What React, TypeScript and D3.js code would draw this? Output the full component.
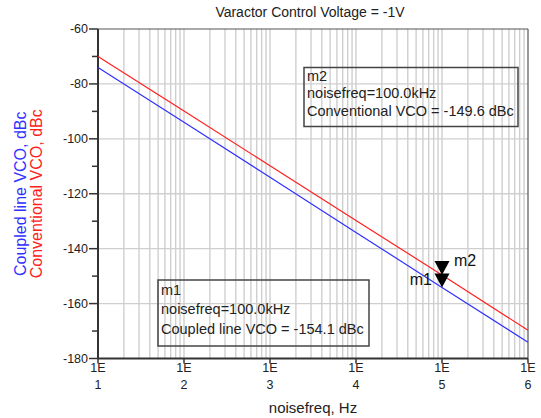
import React from "react";
import * as d3 from "d3";

const title = "Varactor Control Voltage = -1V";
const xTitle = "noisefreq, Hz";
const yTitleBlue = "Coupled line VCO, dBc";
const yTitleRed = "Conventional VCO, dBc";

const noiseFreq = [1e1, 1e2, 1e3, 1e4, 1e5, 1e6];
const conventionalVCO = [-70.0, -89.9, -109.8, -129.7, -149.6, -169.7];
const coupledLineVCO = [-74.0, -94.0, -114.0, -134.1, -154.1, -174.1];

const xExponents = [1, 2, 3, 4, 5, 6];
const yMajorTicks = [-60, -80, -100, -120, -140, -160, -180];
const yMinorTicks = [-70, -90, -110, -130, -150, -170];

const markerFreq = 1e5;
const m1Value = -154.1;
const m2Value = -149.6;
const m1Lines = ["m1", "noisefreq=100.0kHz", "Coupled line VCO = -154.1 dBc"];
const m2Lines = ["m2", "noisefreq=100.0kHz", "Conventional VCO = -149.6 dBc"];

const W = 541;
const H = 418;
const L = 98;
const R = 528;
const T = 29;
const B = 358.5;

const RED = "#ff2020";
const BLUE = "#3030ff";
const FONT = "'Liberation Sans', Arial, sans-serif";

export default function App() {
  const x = d3.scaleLog().domain([1e1, 1e6]).range([L, R]);
  const y = d3.scaleLinear().domain([-180, -60]).range([B, T]);

  const gridX: number[] = [];
  for (let e = 1; e < 6; e++) {
    for (let k = 2; k <= 9; k++) gridX.push(k * Math.pow(10, e));
  }
  const decadeGrid = noiseFreq.slice(1, -1);

  const line = d3
    .line<number>()
    .x((_, i) => x(noiseFreq[i]))
    .y((d) => y(d));

  const tri = (cx: number, tipY: number) => {
    const w = 7.5;
    const h = 14;
    return `M${cx - w},${tipY - h}L${cx + w},${tipY - h}L${cx},${tipY}Z`;
  };

  const mx = x(markerFreq);

  return (
    <svg
      width={W}
      height={H}
      style={{ position: "absolute", left: 0, top: 0, background: "#fff" }}
      fontFamily={FONT}
    >
      <rect x={0} y={0} width={W} height={H} fill="#fff" />
      {/* vertical grid */}
      {gridX.map((f, i) => (
        <line key={"gx" + i} x1={x(f)} x2={x(f)} y1={T} y2={B} stroke="#cfcfcf" strokeWidth={1.4} />
      ))}
      {decadeGrid.map((f, i) => (
        <line key={"gd" + i} x1={x(f)} x2={x(f)} y1={T} y2={B} stroke="#cfcfcf" strokeWidth={1.4} />
      ))}
      {/* horizontal grid */}
      {yMajorTicks.slice(1, -1).map((v) => (
        <line key={"gy" + v} x1={L} x2={R} y1={y(v)} y2={y(v)} stroke="#cfcfcf" strokeWidth={1.4} />
      ))}

      {/* frame */}
      <line x1={L} x2={R} y1={T} y2={T} stroke="#555" strokeWidth={1.2} />
      <line x1={R} x2={R} y1={T} y2={B} stroke="#555" strokeWidth={1.2} />
      <line x1={L} x2={L} y1={T} y2={B} stroke="#333" strokeWidth={2} />
      <line x1={L} x2={R} y1={B} y2={B} stroke="#333" strokeWidth={2} />

      {/* y ticks */}
      {yMajorTicks.map((v) => (
        <g key={"yt" + v}>
          <line x1={L - 9} x2={L} y1={y(v)} y2={y(v)} stroke="#333" strokeWidth={1.5} />
          <text x={L - 10} y={y(v) + 4} fontSize={12.5} textAnchor="end" fill="#222">
            {v}
          </text>
        </g>
      ))}
      {yMinorTicks.map((v) => (
        <line key={"ym" + v} x1={L - 6} x2={L} y1={y(v)} y2={y(v)} stroke="#333" strokeWidth={1.5} />
      ))}

      {/* x ticks */}
      {noiseFreq.map((f, i) => (
        <g key={"xt" + i}>
          <line x1={x(f)} x2={x(f)} y1={B} y2={B + 5} stroke="#333" strokeWidth={1.5} />
          <text x={x(f)} y={372} fontSize={12.5} textAnchor="middle" fill="#222">
            1E
          </text>
          <text x={x(f)} y={389} fontSize={12.5} textAnchor="middle" fill="#222">
            {xExponents[i]}
          </text>
        </g>
      ))}

      {/* data lines */}
      <path d={line(conventionalVCO) || ""} fill="none" stroke={RED} strokeWidth={1.2} />
      <path d={line(coupledLineVCO) || ""} fill="none" stroke={BLUE} strokeWidth={1.2} />

      {/* markers */}
      <path d={tri(mx, y(m2Value))} fill="#000" />
      <path d={tri(mx, y(m1Value))} fill="#000" />
      <text x={mx + 12} y={y(m2Value) - 9} fontSize={16} fill="#111">
        m2
      </text>
      <text x={mx - 10} y={y(m1Value) - 2} fontSize={16} fill="#111" textAnchor="end">
        m1
      </text>

      {/* marker boxes */}
      <rect x={304} y={67.5} width={214} height={59} fill="none" stroke="#444" strokeWidth={1.5} />
      {m2Lines.map((s, i) => (
        <text key={"m2" + i} x={307} y={81 + i * 17.3} fontSize={14.5} fill="#222">
          {s}
        </text>
      ))}
      <rect x={158} y={280} width={211} height={66} fill="none" stroke="#444" strokeWidth={1.5} />
      {m1Lines.map((s, i) => (
        <text key={"m1" + i} x={161} y={294.5 + i * 19.5} fontSize={14.5} fill="#222">
          {s}
        </text>
      ))}

      {/* titles */}
      <text x={310} y={17} fontSize={14} textAnchor="middle" fill="#222">
        {title}
      </text>
      <text x={(L + R) / 2} y={413} fontSize={15} textAnchor="middle" fill="#222">
        {xTitle}
      </text>
      <text
        transform={`translate(26,${(T + B) / 2}) rotate(-90)`}
        fontSize={16}
        textAnchor="middle"
        fill={BLUE}
      >
        {yTitleBlue}
      </text>
      <text
        transform={`translate(42,${(T + B) / 2}) rotate(-90)`}
        fontSize={16}
        textAnchor="middle"
        fill={RED}
      >
        {yTitleRed}
      </text>
    </svg>
  );
}
